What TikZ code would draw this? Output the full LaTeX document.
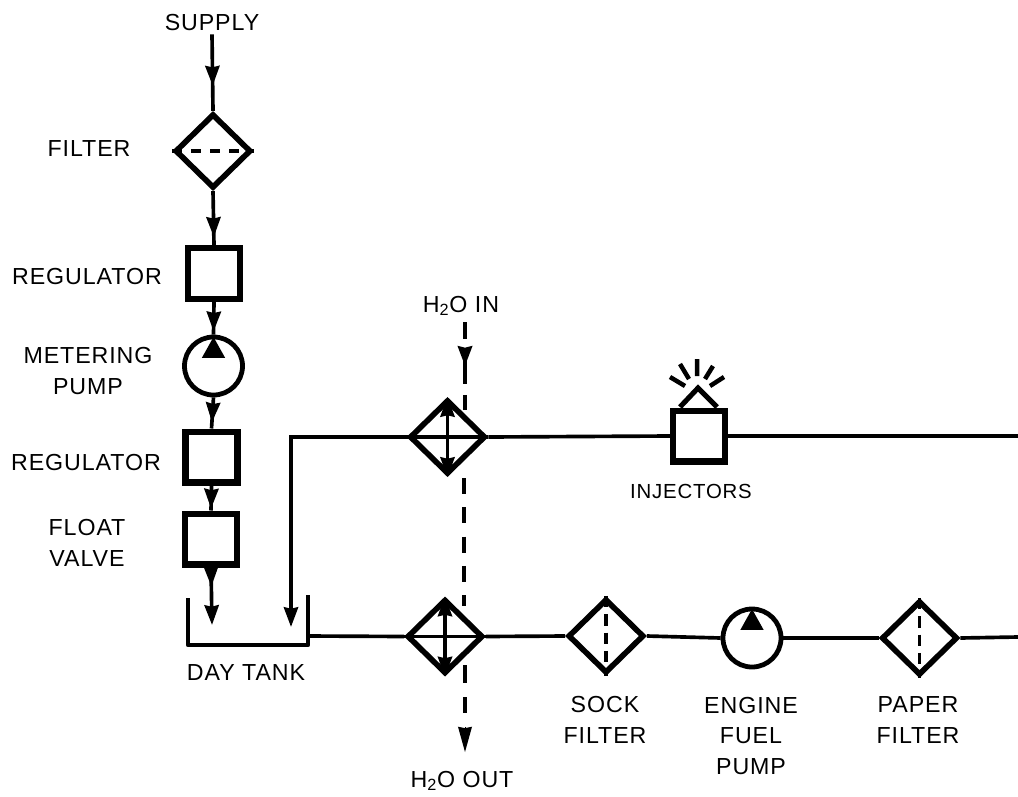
\documentclass[tikz,border=0pt]{standalone}
\usepackage{fontspec}
\setsansfont{Liberation Sans}[LetterSpace=4]
\usetikzlibrary{arrows.meta}
\usetikzlibrary{decorations.markings}
\usetikzlibrary{shapes.geometric}

\tikzset{
  fhead/.tip={Stealth[length=14pt, width=10pt, inset=1pt]},
  xhead/.tip={Stealth[length=14pt, width=10pt, inset=1pt]},
  lbl/.style={font=\sffamily\fontsize{16.5}{22}\selectfont, align=center, inner sep=2pt},
  pipe/.style={line width=2.6pt},
  water/.style={line width=2.8pt, dash pattern=on 11.4pt off 9.4pt},
  headat/.style={postaction={decorate}, decoration={markings, mark=at position #1 with {\arrow{fhead}}}},
  box/.style={draw, rectangle, line width=4.4pt, minimum width=1.3cm, minimum height=1.27cm, inner sep=0pt},
  filterbox/.style={draw, diamond, line width=4pt, minimum width=1.9cm, minimum height=1.86cm, inner sep=0pt},
  pumpbox/.style={draw, circle, line width=3.4pt, minimum size=1.45cm, inner sep=0pt},
}

\begin{document}
\begin{tikzpicture}[x=0.025cm, y=-0.025cm, >=fhead]

  \useasboundingbox (0,0) rectangle (1018,796);

  % ---------- Supply Column ----------
  \node[lbl] (supply) at (212,23) {SUPPLY};
  \node[filterbox] (filter) at (213,151) {};
  \node[box] (reg1) at (214,273.5) {};
  \node[pumpbox] (mpump) at (213.5,366) {};
  \node[box] (reg2) at (211.5,457) {};
  \node[box] (fvalve) at (211,539) {};

  \node[lbl] (lfilter) at (89,149) {FILTER};
  \node[lbl] (lreg1) at (87,277) {REGULATOR};
  \node[lbl] (lmpump) at (88,371) {METERING\\PUMP};
  \node[lbl] (lreg2) at (86,463) {REGULATOR};
  \node[lbl] (lfvalve) at (87,543) {FLOAT\\VALVE};

  \draw[pipe, headat=0.67] (supply.south) -- (filter.north);
  \draw[pipe, headat=0.85] (filter.south) -- (reg1.north);
  \draw[pipe, headat=0.9] (reg1.south) -- (mpump.north);
  \draw[pipe, headat=0.8] (mpump.south) -- (reg2.north);
  \draw[pipe, headat=0.92] (reg2.south) -- (fvalve.north);
  \draw[line width=2.6pt, dash pattern=on 7pt off 6.5pt] (filter.west) -- (filter.east);

  % ---------- Day Tank ----------
  \coordinate (tankin) at (212,625);
  \coordinate (retin) at (291,627);
  \coordinate (tankout) at (308,636);
  \draw[line width=3.2pt, line join=round] (188,598) -- (188,645) -- (308,645) -- (308,595);
  \node[lbl] (ltank) at (246,673) {DAY TANK};
  \draw[pipe, ->, headat=0.33] (fvalve.south) -- (tankin);

  % ---------- Heat Exchangers ----------
  \node[filterbox] (hx1) at (447.5,437) {};
  \node[filterbox] (hx2) at (445,636.5) {};
  \foreach \h in {hx1,hx2} {
    \draw[pipe] (\h.west) -- (\h.east);
    \draw[line width=2.6pt, {xhead}-{xhead}] (\h.north) -- (\h.south);
  }
  \draw[pipe, ->] (hx1.west) -| (retin);
  \draw[pipe] (tankout) -- (hx2.west);

  % ---------- Water Line ----------
  \coordinate (wina) at (465,322);
  \coordinate (winb) at (465,410);
  \coordinate (wmida) at (464,478);
  \coordinate (wmidb) at (464,606);
  \coordinate (wouta) at (465,665);
  \coordinate (woutb) at (465,752);
  \node[lbl] (lwin) at (461,306) {H\textsubscript{2}O IN};
  \node[lbl] (lwout) at (462,781) {H\textsubscript{2}O OUT};
  \draw[water, dash pattern=on 12pt off 7.8pt on 24pt off 8pt on 11pt, headat=0.5] (wina) -- (winb);
  \draw[water] (wmida) -- (wmidb);
  \draw[water, dash pattern=on 12.8pt off 10pt on 11.4pt off 40pt] (wouta) -- (woutb);
  \draw[{Stealth[length=18pt, width=10pt, inset=1pt]}-, line width=0pt] (woutb) -- (465,727);

  % ---------- Injectors ----------
  \node[box] (inj) at (699,436) {};
  \node[lbl, font=\sffamily\fontsize{14.5}{22}\selectfont] (linj) at (691,491) {INJECTORS};
  \draw[line width=3.6pt] (680,407) -- (698,388) -- (717,407);
  \draw[line width=3.2pt]
    (670,377) -- (685,386)
    (680,364) -- (689,379)
    (697,359) -- (697,376)
    (713,366) -- (705,379)
    (724,377) -- (710,386);
  \coordinate (endtop) at (1018,436);
  \draw[pipe] (hx1.east) -- (inj.west);
  \draw[pipe] (inj.east) -- (endtop);

  % ---------- Engine Feed ----------
  \node[filterbox] (sock) at (606,636) {};
  \node[pumpbox] (epump) at (752,638) {};
  \node[filterbox] (paper) at (919.5,638) {};
  \coordinate (endbot) at (1018,637);

  \node[lbl] (lsock) at (605,720) {SOCK\\FILTER};
  \node[lbl] (lepump) at (751,736) {ENGINE\\FUEL\\PUMP};
  \node[lbl] (lpaper) at (918,720) {PAPER\\FILTER};

  \draw[pipe] (hx2.east) -- (sock.west);
  \draw[pipe] (sock.east) -- (epump.west);
  \draw[pipe] (epump.east) -- (paper.west);
  \draw[pipe] (paper.east) -- (endbot);
  \foreach \f in {sock,paper}
    \draw[line width=2.6pt, dash pattern=on 8pt off 5pt] (\f.north) -- (\f.south);

  % pump triangles
  \foreach \p in {mpump,epump}
    \fill ([yshift=-0.06cm]\p.north) -- ([xshift=0.29cm,yshift=-0.58cm]\p.north) -- ([xshift=-0.29cm,yshift=-0.58cm]\p.north) -- cycle;

\end{tikzpicture}
\end{document}
